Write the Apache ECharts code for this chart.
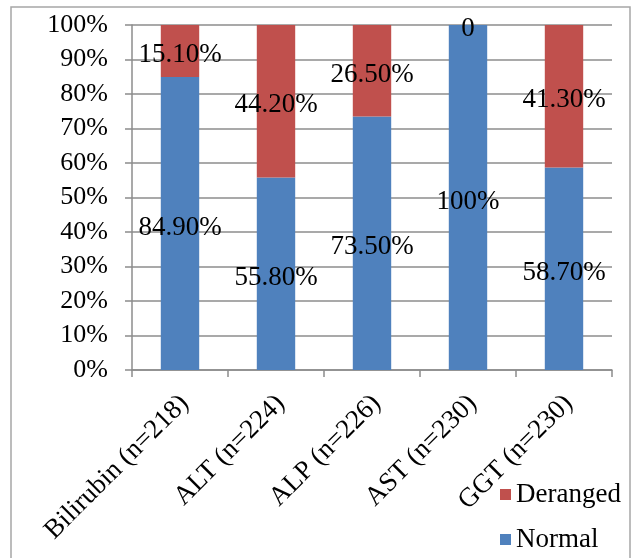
<!DOCTYPE html>
<html>
<head>
<meta charset="utf-8">
<script src="https://cdn.jsdelivr.net/npm/echarts@6/dist/echarts.min.js"></script>
<style>
html,body{margin:0;padding:0;background:#fff;}
#chart{width:633px;height:558px;}
</style>
</head>
<body>
<div id="chart"></div>
<script>
var categories = ['Bilirubin (n=218)', 'ALT (n=224)', 'ALP (n=226)', 'AST (n=230)', 'GGT (n=230)'];
var normal = [84.9, 55.8, 73.5, 100, 58.7];
var deranged = [15.1, 44.2, 26.5, 0, 41.3];
var yTicks = [0, 100, 10];

var FONT = 'Liberation Serif';
var FS = 27;
function fmt(p) {
  var v = p.value;
  if (v === 0) return '0';
  if (v === 100) return '100%';
  return v.toFixed(2) + '%';
}
var chart = echarts.init(document.getElementById('chart'));
chart.setOption({
  animation: false,
  backgroundColor: '#fff',
  textStyle: { fontFamily: FONT },
  graphic: [{
    type: 'rect',
    shape: { x: 11, y: 7, width: 619, height: 560 },
    style: { fill: 'none', stroke: '#a6a6a6', lineWidth: 1.5 },
    silent: true, z: -1
  }],
  grid: { left: 132, right: 21, top: 25, bottom: 188 },
  legend: {
    orient: 'vertical',
    left: 495, top: 476,
    itemWidth: 11, itemHeight: 11, itemGap: 18,
    icon: 'rect',
    data: ['Deranged', 'Normal'],
    textStyle: { fontFamily: FONT, fontSize: FS, color: '#000' }
  },
  xAxis: {
    type: 'category',
    data: categories,
    axisLine: { lineStyle: { color: '#8c8c8c', width: 1.5 } },
    axisTick: { show: true, length: 7, lineStyle: { color: '#8c8c8c', width: 1.5 } },
    axisLabel: { rotate: 45, margin: 15, padding: [0, 7, 0, 0], verticalAlign: 'top', fontFamily: FONT, fontSize: FS, color: '#000', interval: 0 }
  },
  yAxis: {
    type: 'value',
    min: yTicks[0], max: yTicks[1], interval: yTicks[2],
    axisLine: { show: true, lineStyle: { color: '#8c8c8c', width: 1.5 } },
    axisTick: { show: true, length: 7, lineStyle: { color: '#8c8c8c', width: 1.5 } },
    splitLine: { lineStyle: { color: '#8c8c8c', width: 1.5 } },
    axisLabel: { formatter: '{value}%', margin: 24, fontFamily: FONT, fontSize: 26, color: '#000' }
  },
  series: [{
    name: 'Normal', type: 'bar', stack: 'a', data: normal, barWidth: '40%',
    itemStyle: { color: '#4F81BD' },
    label: { show: true, position: 'inside', offset: [0, 4], formatter: fmt, fontFamily: FONT, fontSize: FS, color: '#000' }
  }, {
    name: 'Deranged', type: 'bar', stack: 'a', data: deranged, barWidth: '40%',
    itemStyle: { color: '#C0504D' },
    label: { show: true, position: 'inside', offset: [0, 4], formatter: fmt, fontFamily: FONT, fontSize: FS, color: '#000' }
  }]
});
</script>
</body>
</html>
